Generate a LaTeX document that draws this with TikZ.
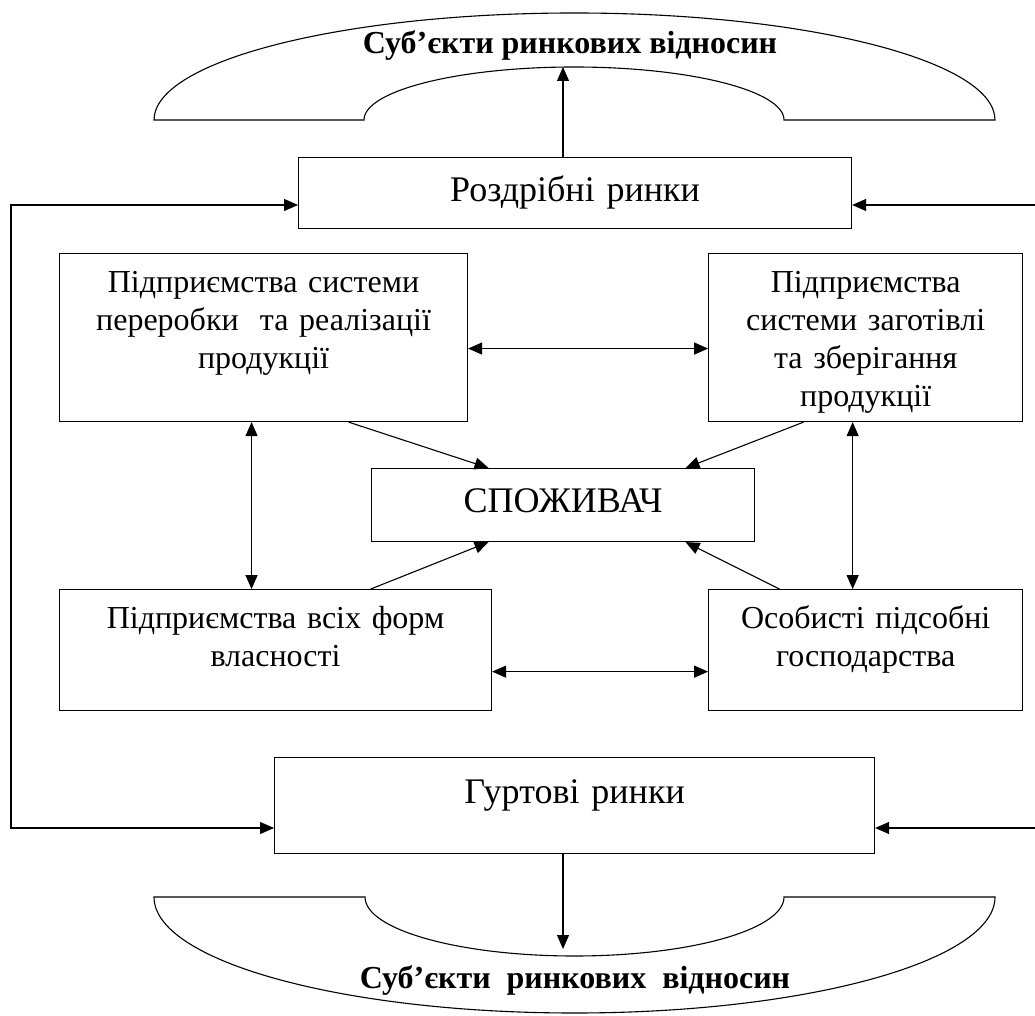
\documentclass[tikz,border=0pt]{standalone}
\usepackage{fontspec}
\setmainfont{Liberation Serif}
\usetikzlibrary{arrows.meta,positioning,calc}

\begin{document}
\begin{tikzpicture}[
  x=1pt, y=1pt,
  bx/.style={draw, line width=1.1pt, inner sep=0pt, align=center,
             font=\fontsize{32}{38}\selectfont},
  bg/.style={bx, font=\fontsize{36}{43}\selectfont},
  hd/.style={inner sep=0pt, font=\fontsize{32}{38}\selectfont\bfseries},
  shp/.style={line width=1.1pt},
  ar/.style={-{Triangle[length=14pt,width=12pt]}, line width=1.1pt},
  dar/.style={{Triangle[length=14pt,width=12pt]}-{Triangle[length=14pt,width=12pt]},
              line width=1.1pt}
]
  \useasboundingbox (0,0) rectangle (1035,1015);

  % upper and lower arcs
  \draw[shp] (154,895) -- (364,895)
    arc[start angle=180, end angle=0, x radius=210, y radius=53]
    -- (995,895)
    arc[start angle=0, end angle=180, x radius=420.5, y radius=107] -- cycle;
  \draw[shp] (154,118) -- (365,118)
    arc[start angle=180, end angle=360, x radius=209.5, y radius=59]
    -- (995,118)
    arc[start angle=360, end angle=180, x radius=420.5, y radius=116] -- cycle;
  \node[hd, anchor=base] (subtop) at (570,961) {Суб’єкти ринкових відносин};
  \node[hd, anchor=base] (subbot) at (575,27) {Суб’єкти\ \ ринкових\ \ відносин};

  % boxes
  \node[bg, text width=553pt, text height=44pt, text depth=27pt, anchor=north west]
    (rozdr) at (298,858) {Роздрібні ринки};
  \node[bx, text width=408pt, text height=39pt, text depth=129pt, anchor=north west]
    (pererob) at (59,762) {Підприємства системи\\переробки\ \ та реалізації\\продукції};
  \node[bx, text width=314pt, text height=39pt, text depth=129pt, right=240pt of pererob]
    (zagot) {Підприємства\\системи заготівлі\\та зберігання\\продукції};
  \node[bg, text width=383pt, text height=44pt, text depth=29pt, anchor=north west]
    (spozh) at (371,547) {СПОЖИВАЧ};
  \node[bx, text width=432pt, text height=39pt, text depth=82pt,
        below right=167pt and 0pt of pererob.south west]
    (vsih) {Підприємства всіх форм\\власності};
  \node[bx, text width=314pt, text height=39pt, text depth=82pt, right=216pt of vsih]
    (osob) {Особисті підсобні\\господарства};
  \node[bg, text width=600pt, text height=46pt, text depth=50pt, anchor=north west]
    (gurt) at (274,258) {Гуртові ринки};

  % free ends
  \coordinate (topin) at (563,948);
  \coordinate (botin) at (563,66);
  \coordinate (lt) at (11,810);
  \coordinate (lb) at (11,187);
  \coordinate (rt) at (1035,810);
  \coordinate (rb) at (1035,187);

  \draw[ar] (topin |- rozdr.north) -- (topin);
  \draw[ar] (botin |- gurt.south) -- (botin);
  \draw[dar] (lt -| rozdr.west) -- (lt) -- (lb) -- (lb -| gurt.west);
  \draw[ar] (rt) -- (rt -| rozdr.east);
  \draw[ar] (rb) -- (rb -| gurt.east);

  \draw[dar] ([yshift=-11pt]pererob.east) -- ([yshift=-11pt]zagot.west);
  \draw[dar] ([yshift=-21.5pt]vsih.east) -- ([yshift=-21.5pt]osob.west);
  \draw[dar] ([xshift=-12pt]pererob.south) -- ([xshift=-12pt]pererob.south |- vsih.north);
  \draw[dar] ([xshift=-13pt]zagot.south) -- ([xshift=-13pt]zagot.south |- osob.north);

  % into consumer
  \draw[ar] ([xshift=85pt]pererob.south) -- ([xshift=-74.5pt]spozh.north);
  \draw[ar] ([xshift=-62pt]zagot.south) -- ([xshift=122.5pt]spozh.north);
  \draw[ar] ([xshift=95pt]vsih.north) -- ([xshift=-74.5pt]spozh.south);
  \draw[ar] ([xshift=-86pt]osob.north) -- ([xshift=122.5pt]spozh.south);
\end{tikzpicture}
\end{document}
